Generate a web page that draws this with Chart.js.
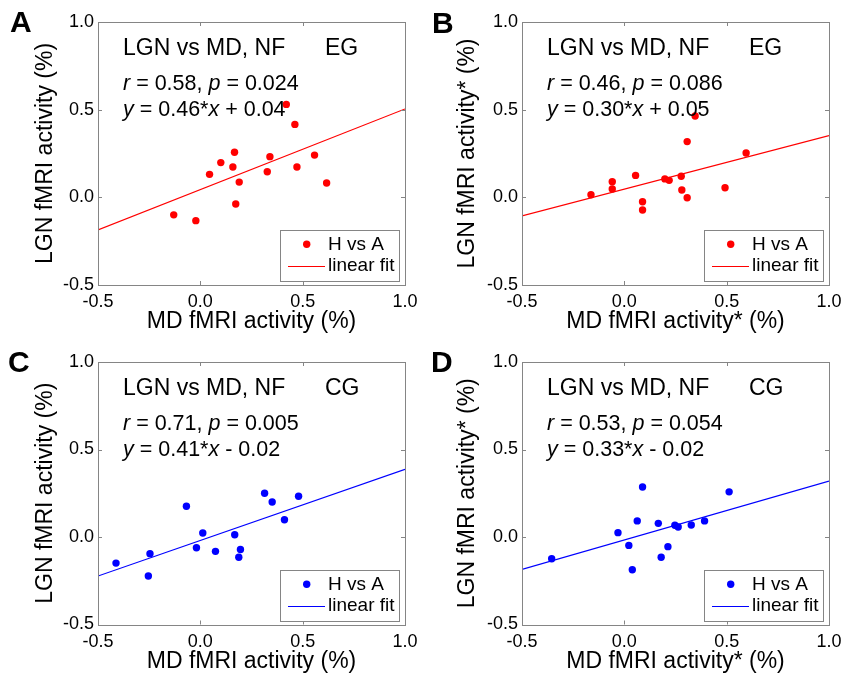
<!DOCTYPE html>
<html><head><meta charset="utf-8">
<script src="https://cdn.jsdelivr.net/npm/chart.js@4/dist/chart.umd.min.js"></script>
<style>
html,body{margin:0;padding:0;background:#fff;}
#wrap{position:relative;width:843px;height:677px;overflow:hidden;background:#fff;}
canvas{position:absolute;}
</style></head><body>
<div id="wrap">
<canvas id="cA" width="421" height="338" style="left:0px;top:0px"></canvas>
<canvas id="cB" width="422" height="338" style="left:421px;top:0px"></canvas>
<canvas id="cC" width="421" height="339" style="left:0px;top:338px"></canvas>
<canvas id="cD" width="422" height="339" style="left:421px;top:338px"></canvas>
</div>
<script>
// ---------- data ----------
const axisMin = -0.5, axisMax = 1.0, axisStep = 0.5;
const panelLetters = ['A', 'B', 'C', 'D'];
const groups = ['EG', 'EG', 'CG', 'CG'];
const xTitles = ['MD fMRI activity (%)', 'MD fMRI activity* (%)', 'MD fMRI activity (%)', 'MD fMRI activity* (%)'];
const yTitles = ['LGN fMRI activity (%)', 'LGN fMRI activity* (%)', 'LGN fMRI activity (%)', 'LGN fMRI activity* (%)'];
const rValues = ['0.58', '0.46', '0.71', '0.53'];
const pValues = ['0.024', '0.086', '0.005', '0.054'];
const slopes = ['0.46', '0.30', '0.41', '0.33'];
const intercepts = ['+ 0.04', '+ 0.05', '- 0.02', '- 0.02'];
const pointLabel = 'H vs A';
const fitLabel = 'linear fit';

const aX = [-0.13, -0.022, 0.045, 0.10, 0.159, 0.167, 0.19, 0.173, 0.327, 0.34, 0.42, 0.462, 0.472, 0.558, 0.617];
const aY = [-0.10, -0.133, 0.131, 0.198, 0.173, 0.257, 0.087, -0.038, 0.146, 0.232, 0.53, 0.416, 0.173, 0.241, 0.082];
const bX = [-0.163, -0.059, -0.059, 0.055, 0.089, 0.089, 0.198, 0.219, 0.278, 0.281, 0.307, 0.307, 0.346, 0.492, 0.595];
const bY = [0.015, 0.089, 0.048, 0.125, -0.025, -0.072, 0.105, 0.097, 0.12, 0.042, 0.318, -0.002, 0.464, 0.055, 0.253];
const cX = [-0.412, -0.254, -0.246, -0.068, -0.019, 0.012, 0.074, 0.168, 0.188, 0.196, 0.314, 0.351, 0.411, 0.48];
const cY = [-0.149, -0.223, -0.095, 0.176, -0.061, 0.023, -0.082, 0.013, -0.116, -0.071, 0.25, 0.20, 0.099, 0.233];
const dX = [-0.355, -0.031, 0.022, 0.039, 0.063, 0.089, 0.166, 0.18, 0.213, 0.247, 0.263, 0.327, 0.392, 0.512];
const dY = [-0.124, 0.025, -0.048, -0.187, 0.092, 0.286, 0.078, -0.116, -0.055, 0.067, 0.057, 0.069, 0.092, 0.258];

const fitX = [-0.5, 1.0];
const fitAY = [-0.186, 0.504];
const fitBY = [-0.106, 0.352];
const fitCY = [-0.223, 0.387];
const fitDY = [-0.185, 0.319];

const pointsX = [aX, bX, cX, dX];
const pointsY = [aY, bY, cY, dY];
const fitsY = [fitAY, fitBY, fitCY, fitDY];
const colors = ['#ff0000', '#ff0000', '#0000ff', '#0000ff'];

// ---------- layout (positions, not data) ----------
const layouts = [
  {id: 'cA', w: 421, h: 338, L: 98,  R: 405, T: 22, B: 285,   yPad: 32, xPad: 2.5, tickPad: 6,   lx: 10, ly: 32},
  {id: 'cB', w: 422, h: 338, L: 101, R: 408, T: 22, B: 285,   yPad: 33, xPad: 2.5, tickPad: 6,   lx: 11, ly: 33},
  {id: 'cC', w: 421, h: 339, L: 98,  R: 405, T: 24, B: 286.5, yPad: 32, xPad: 1.5, tickPad: 6.4, lx: 8,  ly: 34},
  {id: 'cD', w: 422, h: 339, L: 101, R: 408, T: 24, B: 286.5, yPad: 33, xPad: 1.5, tickPad: 6.4, lx: 10, ly: 34}
];

const FONT = '"Liberation Sans", Arial, Helvetica, sans-serif';
const FRAME = '#858585';

function toXY(xs, ys) { return xs.map((x, i) => ({x: x, y: ys[i]})); }

function drawRich(ctx, parts, x, y, size) {
  parts.forEach(([t, it]) => {
    ctx.font = (it ? 'italic ' : '') + size + 'px ' + FONT;
    ctx.fillText(t, x, y);
    x += ctx.measureText(t).width;
  });
}

const decorPlugin = {
  id: 'decor',
  afterDatasetsDraw(chart) {
    const ctx = chart.ctx, a = chart.chartArea;
    const xs = chart.scales.x, ys = chart.scales.y;
    ctx.save();
    ctx.strokeStyle = FRAME;
    ctx.lineWidth = 1;
    ctx.strokeRect(Math.round(a.left) + 0.5, Math.round(a.top) + 0.5, Math.round(a.right - a.left), Math.round(a.bottom - a.top));
    const tl = 4;
    ctx.beginPath();
    xs.ticks.forEach(t => {
      const px = Math.round(xs.getPixelForValue(t.value)) + 0.5;
      ctx.moveTo(px, a.bottom); ctx.lineTo(px, a.bottom - tl);
      ctx.moveTo(px, a.top); ctx.lineTo(px, a.top + tl);
    });
    ys.ticks.forEach(t => {
      const py = Math.round(ys.getPixelForValue(t.value)) + 0.5;
      ctx.moveTo(a.left, py); ctx.lineTo(a.left + tl, py);
      ctx.moveTo(a.right, py); ctx.lineTo(a.right - tl, py);
    });
    ctx.stroke();
    ctx.restore();
  },
  afterDraw(chart) {
    const o = chart.options.plugins.decor;
    const ctx = chart.ctx, a = chart.chartArea;
    const i = o.index;
    ctx.save();
    ctx.fillStyle = '#000';
    ctx.textBaseline = 'alphabetic';
    ctx.textAlign = 'left';
    // panel letter
    ctx.font = 'bold 30px ' + FONT;
    ctx.fillText(panelLetters[i], o.lx, o.ly);
    // annotations
    ctx.textBaseline = 'middle';
    ctx.font = '23px ' + FONT;
    ctx.fillText('LGN vs MD, NF', a.left + 25, a.top + 27);
    ctx.fillText(groups[i], a.left + 227, a.top + 27);
    drawRich(ctx, [['r', 1], [' = ' + rValues[i] + ', ', 0], ['p', 1], [' = ' + pValues[i], 0]], a.left + 25, a.top + 62, 21.5);
    drawRich(ctx, [['y', 1], [' = ' + slopes[i] + '*', 0], ['x', 1], [' ' + intercepts[i], 0]], a.left + 25, a.top + 88, 21.5);
    // legend
    const bl = Math.round(a.right - 125), br = Math.round(a.right - 6), bt = Math.round(a.bottom - 55), bb = Math.round(a.bottom - 4);
    ctx.fillStyle = '#fff';
    ctx.fillRect(bl, bt, br - bl, bb - bt);
    ctx.strokeStyle = FRAME;
    ctx.lineWidth = 1;
    ctx.strokeRect(bl + 0.5, bt + 0.5, br - bl, bb - bt);
    ctx.fillStyle = colors[i];
    ctx.beginPath();
    ctx.arc(bl + 26.7, bt + 14.3, 3.7, 0, Math.PI * 2);
    ctx.fill();
    ctx.strokeStyle = colors[i];
    ctx.lineWidth = 1;
    ctx.beginPath();
    ctx.moveTo(bl + 8, bt + 36.5); ctx.lineTo(bl + 45, bt + 36.5);
    ctx.stroke();
    ctx.fillStyle = '#000';
    ctx.font = '19px ' + FONT;
    ctx.fillText(pointLabel, bl + 48, bt + 14.5);
    ctx.fillText(fitLabel, bl + 48, bt + 36);
    ctx.restore();
  }
};

layouts.forEach((lay, i) => {
  const canvas = document.getElementById(lay.id);
  new Chart(canvas.getContext('2d'), {
    type: 'scatter',
    data: {
      datasets: [
        {
          label: pointLabel,
          data: toXY(pointsX[i], pointsY[i]),
          backgroundColor: colors[i],
          borderColor: colors[i],
          borderWidth: 0,
          pointRadius: 3.7,
          showLine: false,
          order: 2
        },
        {
          label: fitLabel,
          data: toXY(fitX, fitsY[i]),
          borderColor: colors[i],
          backgroundColor: colors[i],
          borderWidth: 1.2,
          pointRadius: 0,
          showLine: true,
          order: 1
        }
      ]
    },
    options: {
      responsive: false,
      animation: false,
      devicePixelRatio: 1,
      layout: {padding: {left: 0, top: lay.T, right: lay.w - lay.R, bottom: 0}},
      plugins: {
        legend: {display: false},
        tooltip: {enabled: false},
        decor: {index: i, lx: lay.lx, ly: lay.ly}
      },
      scales: {
        x: {
          type: 'linear',
          min: axisMin, max: axisMax,
          grid: {display: false, drawTicks: false},
          border: {display: false},
          ticks: {
            stepSize: axisStep, color: '#000', padding: lay.tickPad,
            maxRotation: 0, autoSkip: false,
            font: {family: FONT, size: 18},
            callback: v => Number(v).toFixed(1)
          },
          title: {display: true, text: xTitles[i], color: '#000', font: {family: FONT, size: 23}, padding: {top: 0, bottom: lay.xPad}},
          afterFit: s => { s.height = lay.h - lay.B; s.paddingLeft = 0; s.paddingRight = 0; }
        },
        y: {
          type: 'linear',
          min: axisMin, max: axisMax,
          grid: {display: false, drawTicks: false},
          border: {display: false},
          ticks: {
            stepSize: axisStep, color: '#000', padding: 4,
            font: {family: FONT, size: 18},
            callback: v => Number(v).toFixed(1)
          },
          title: {display: true, text: yTitles[i], color: '#000', font: {family: FONT, size: 23}, padding: {top: lay.yPad, bottom: 0}},
          afterFit: s => { s.width = lay.L; s.paddingTop = 0; s.paddingBottom = 0; }
        }
      }
    },
    plugins: [decorPlugin]
  });
});
</script>
</body></html>
